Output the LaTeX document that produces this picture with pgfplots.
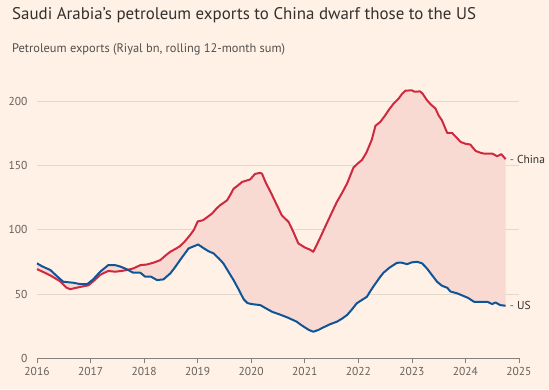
\documentclass[border=0pt]{standalone}
\usepackage{fontspec}
\setmainfont{PT Sans}
\usepackage{pgfplots}
\pgfplotsset{compat=1.18}
\usepgfplotslibrary{fillbetween}
\definecolor{bg}{HTML}{FFF1E5}
\definecolor{ftred}{HTML}{CE2A3F}
\definecolor{ftblue}{HTML}{0F5499}
\definecolor{fillpink}{HTML}{F8DAD2}
\definecolor{gridc}{HTML}{E4D8CD}
\definecolor{tickc}{HTML}{66605C}
\definecolor{titlec}{HTML}{33302E}
\pagecolor{bg}

\pgfplotstableread{
x y
2016.00 69.4
2016.10 67.5
2016.25 64.5
2016.43 60
2016.55 55
2016.62 53.8
2016.80 55.5
2016.96 56.8
2017.08 61
2017.18 65
2017.33 68
2017.46 67.4
2017.58 68
2017.68 68.7
2017.80 70
2017.93 72.5
2018.05 73
2018.18 74.5
2018.30 76.4
2018.40 80
2018.49 83
2018.58 85
2018.67 87.3
2018.76 91
2018.86 96
2018.93 100
2019.00 106.5
2019.10 107.5
2019.20 110.5
2019.27 112.7
2019.35 116.5
2019.42 119.2
2019.50 121.5
2019.55 123
2019.62 128
2019.67 132
2019.75 134.5
2019.83 137.3
2019.98 139.2
2020.07 143.5
2020.16 144.3
2020.20 143.8
2020.28 136
2020.36 129.6
2020.47 120
2020.57 111.4
2020.70 106
2020.78 99
2020.88 89.4
2021.00 86.3
2021.10 84.5
2021.16 82.9
2021.22 88
2021.30 95
2021.41 105
2021.50 113
2021.60 121.8
2021.70 129
2021.79 136.1
2021.91 148.5
2022.00 152
2022.07 154.5
2022.15 160
2022.25 170
2022.32 181
2022.41 184
2022.50 189
2022.58 194
2022.66 198.3
2022.75 202
2022.82 206
2022.88 208.3
2023.00 208.6
2023.05 207.5
2023.10 207.6
2023.15 207.8
2023.20 206
2023.28 201
2023.35 197.7
2023.44 194.4
2023.50 189
2023.56 185.3
2023.66 175.4
2023.75 175.4
2023.83 172
2023.91 168.4
2024.00 167
2024.09 166.4
2024.19 161.4
2024.28 160
2024.34 159.4
2024.50 159.4
2024.59 157.3
2024.67 158.9
2024.75 155
}\china

\pgfplotstableread{
x y
2016.00 73.9
2016.10 71.5
2016.25 68.7
2016.37 64
2016.49 59.6
2016.68 58.8
2016.80 57.8
2016.94 57.8
2017.05 61.5
2017.18 67.4
2017.33 72.5
2017.46 72.5
2017.55 71.5
2017.64 70
2017.80 66.6
2017.93 66.6
2018.02 63.5
2018.13 63.5
2018.24 60.9
2018.36 61.4
2018.49 66.1
2018.58 71
2018.67 76.4
2018.83 85.5
2019.01 88.6
2019.10 86
2019.20 83.4
2019.30 81.6
2019.40 77.5
2019.48 73.9
2019.58 67
2019.67 60.9
2019.76 54
2019.86 45.9
2019.93 43
2020.01 42.2
2020.17 41.4
2020.27 39
2020.39 36.2
2020.54 34
2020.67 31.9
2020.85 28.5
2020.93 26
2021.00 24.1
2021.08 22
2021.16 20.7
2021.25 22
2021.35 24.1
2021.47 26.5
2021.60 28.5
2021.70 31
2021.79 33.7
2021.88 38
2021.97 42.8
2022.07 45.5
2022.16 47.9
2022.22 52
2022.30 57
2022.41 63.5
2022.47 66.6
2022.58 70.5
2022.72 74.3
2022.80 74.5
2022.91 73.3
2023.00 74.7
2023.10 75.1
2023.19 73.9
2023.28 70
2023.38 64.5
2023.47 59.6
2023.56 56.5
2023.66 54.9
2023.72 52
2023.78 51.3
2023.85 50.5
2023.97 48.4
2024.05 47
2024.16 44
2024.30 44
2024.41 44
2024.50 42.2
2024.56 43.5
2024.65 41.4
2024.75 40.9
}\us

\begin{document}%
\begin{tikzpicture}[x=1bp,y=1bp]
\path (0,0) rectangle (549,389);
\node[anchor=base west, inner sep=0, text=titlec, font=\fontsize{16.9bp}{19bp}\selectfont] at (12,370) {Saudi Arabia’s petroleum exports to China dwarf those to the US};
\node[anchor=base west, inner sep=0, text=titlec!85, font=\fontsize{12.4bp}{14bp}\selectfont] at (12,337) {Petroleum exports (Riyal bn, rolling 12-month sum)};
\begin{axis}[
  at={(37bp,30.7bp)}, anchor=south west,
  scale only axis, width=482bp, height=269.8bp,
  xmin=2016, xmax=2025, ymin=0, ymax=210,
  clip=false,
  axis x line*=bottom, axis y line*=left,
  y axis line style={draw=none},
  x axis line style={draw=tickc!80, line width=0.7bp},
  xtick={2016,2017,...,2025},
  ytick={0,50,100,150,200},
  tick align=outside,
  major tick length=5bp,
  xtick style={draw=tickc!80, line width=0.7bp},
  ytick style={draw=none},
  ymajorgrids,
  grid style={draw=gridc, line width=0.8bp},
  /pgf/number format/assume math mode=true,
  /pgf/number format/1000 sep={},
  ticklabel style={text=tickc, font=\fontsize{11.5bp}{13bp}\selectfont},
  yticklabel style={xshift=-1bp},
]
\addplot[name path=cn, draw=none, forget plot] table {\china};
\addplot[name path=usp, draw=none, forget plot] table {\us};
\addplot[fill=fillpink, draw=none] fill between[of=cn and usp];
\addplot[ftred, line width=2bp, line join=round] table {\china};
\addplot[ftblue, line width=2bp, line join=round] table {\us};
\node[anchor=west, inner sep=0, xshift=4bp, text=titlec, font=\fontsize{11.5bp}{13bp}\selectfont] at (axis cs:2024.75,155) {\textcolor{tickc}{-} China};
\node[anchor=west, inner sep=0, xshift=4bp, text=titlec, font=\fontsize{11.5bp}{13bp}\selectfont] at (axis cs:2024.75,40.9) {\textcolor{tickc}{-} US};
\end{axis}
\end{tikzpicture}%
\end{document}
